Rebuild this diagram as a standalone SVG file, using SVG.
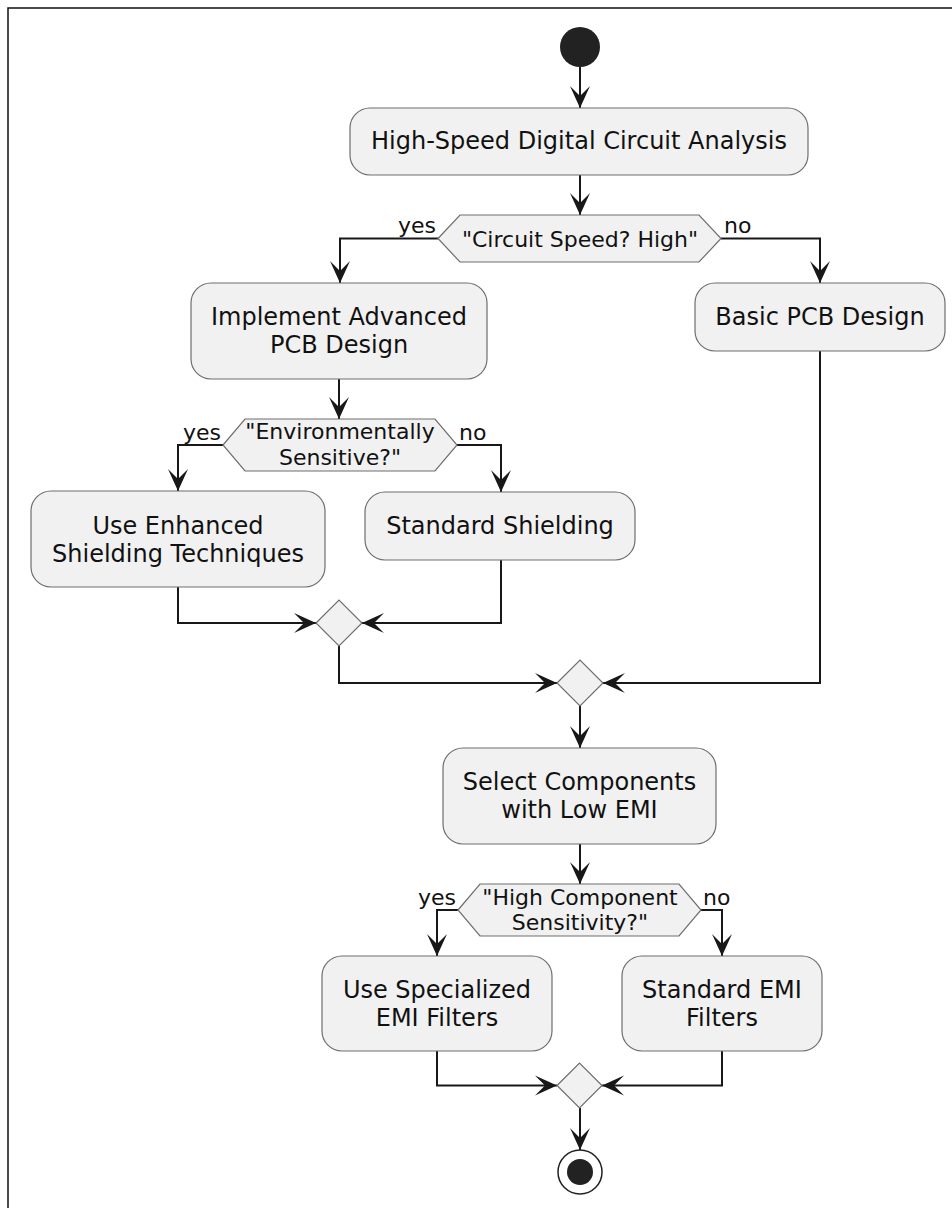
<svg xmlns="http://www.w3.org/2000/svg" width="952" height="1208" viewBox="0 0 952 1208">
<defs>
<style>
.box{fill:#F1F1F1;stroke:#6e6e6e;stroke-width:1.2}
.t{font-family:"DejaVu Sans",Verdana,sans-serif;font-size:24px;fill:#111;text-anchor:middle}
.d{font-family:"DejaVu Sans",Verdana,sans-serif;font-size:22px;fill:#111;text-anchor:middle}
.l{font-family:"DejaVu Sans",Verdana,sans-serif;font-size:22px;fill:#111}
.c{fill:none;stroke:#181818;stroke-width:2}
</style>
<marker id="ah" markerUnits="userSpaceOnUse" viewBox="-24 -12 26 24" refX="0" refY="0" markerWidth="26" markerHeight="24" orient="auto">
<path d="M0,0 L-22,-10 L-12,0 L-22,10 Z" fill="#181818"/>
</marker>
</defs>
<rect width="952" height="1208" fill="#fff"/>
<path d="M8,1208 V8 H952" fill="none" stroke="#111" stroke-width="1.5"/>

<g id="connectors">
<path class="c" d="M580,67 V108" marker-end="url(#ah)"/>
<path class="c" d="M580,175 V215" marker-end="url(#ah)"/>
<path class="c" d="M438,238.5 H340 V283" marker-end="url(#ah)"/>
<path class="c" d="M721,238.5 H820 V283" marker-end="url(#ah)"/>
<path class="c" d="M339,379 V419" marker-end="url(#ah)"/>
<path class="c" d="M223,445 H178 V491" marker-end="url(#ah)"/>
<path class="c" d="M457,445 H501 V492" marker-end="url(#ah)"/>
<path class="c" d="M178,587 V623 H316" marker-end="url(#ah)"/>
<path class="c" d="M501,560 V623 H362" marker-end="url(#ah)"/>
<path class="c" d="M339,646 V683 H557" marker-end="url(#ah)"/>
<path class="c" d="M820,351 V683 H603" marker-end="url(#ah)"/>
<path class="c" d="M580,706 V748" marker-end="url(#ah)"/>
<path class="c" d="M580,844 V884" marker-end="url(#ah)"/>
<path class="c" d="M458,910 H437 V956" marker-end="url(#ah)"/>
<path class="c" d="M701,910 H722 V956" marker-end="url(#ah)"/>
<path class="c" d="M437,1051 V1085.5 H557" marker-end="url(#ah)"/>
<path class="c" d="M722,1051 V1085.5 H602" marker-end="url(#ah)"/>
<path class="c" d="M580,1108 V1150" marker-end="url(#ah)"/>
<text class="l" x="436" y="233" text-anchor="end">yes</text>
<text class="l" x="724" y="233">no</text>
<text class="l" x="221" y="440" text-anchor="end">yes</text>
<text class="l" x="459" y="440">no</text>
<text class="l" x="456" y="905" text-anchor="end">yes</text>
<text class="l" x="703" y="905">no</text>
</g>

<g id="start"><circle cx="580" cy="47" r="20" fill="#222"/></g>

<g id="analysis">
<rect class="box" x="350" y="108" width="458" height="67" rx="20"/>
<text class="t" x="579" y="149">High-Speed Digital Circuit Analysis</text>
</g>

<g id="speed">
<polygon class="box" points="438,238.5 460,215 699,215 721,238.5 699,262 460,262"/>
<text class="d" x="580" y="247">"Circuit Speed? High"</text>
</g>

<g id="advanced">
<rect class="box" x="191" y="283" width="296" height="96" rx="20"/>
<text class="t" x="339" y="325">Implement Advanced</text>
<text class="t" x="339" y="353">PCB Design</text>
</g>

<g id="basic">
<rect class="box" x="695" y="283" width="250" height="68" rx="20"/>
<text class="t" x="820" y="325">Basic PCB Design</text>
</g>

<g id="env">
<polygon class="box" points="223,445 245,419 435,419 457,445 435,471 245,471"/>
<text class="d" x="340" y="439">"Environmentally</text>
<text class="d" x="340" y="465">Sensitive?"</text>
</g>

<g id="enhanced">
<rect class="box" x="31" y="491" width="294" height="96" rx="20"/>
<text class="t" x="178" y="534">Use Enhanced</text>
<text class="t" x="178" y="562">Shielding Techniques</text>
</g>

<g id="stdshield">
<rect class="box" x="365" y="492" width="270" height="68" rx="20"/>
<text class="t" x="500" y="534">Standard Shielding</text>
</g>

<g id="merge1"><polygon class="box" points="316,623 339,600 362,623 339,646"/></g>
<g id="merge2"><polygon class="box" points="557,683 580,660 603,683 580,706"/></g>

<g id="select">
<rect class="box" x="443" y="748" width="273" height="96" rx="20"/>
<text class="t" x="579.5" y="790">Select Components</text>
<text class="t" x="579.5" y="818">with Low EMI</text>
</g>

<g id="sens">
<polygon class="box" points="458,910 480,884 679,884 701,910 679,936 480,936"/>
<text class="d" x="580" y="905">"High Component</text>
<text class="d" x="580" y="930">Sensitivity?"</text>
</g>

<g id="specialized">
<rect class="box" x="322" y="956" width="230" height="95" rx="20"/>
<text class="t" x="437" y="998">Use Specialized</text>
<text class="t" x="437" y="1026">EMI Filters</text>
</g>

<g id="stdemi">
<rect class="box" x="622" y="956" width="200" height="95" rx="20"/>
<text class="t" x="722" y="998">Standard EMI</text>
<text class="t" x="722" y="1026">Filters</text>
</g>

<g id="merge3"><polygon class="box" points="557,1085.5 579.5,1063 602,1085.5 579.5,1108"/></g>

<g id="end">
<circle cx="580" cy="1172" r="22" fill="#fff" stroke="#222" stroke-width="1.5"/>
<circle cx="580" cy="1172" r="13" fill="#222"/>
</g>
</svg>
